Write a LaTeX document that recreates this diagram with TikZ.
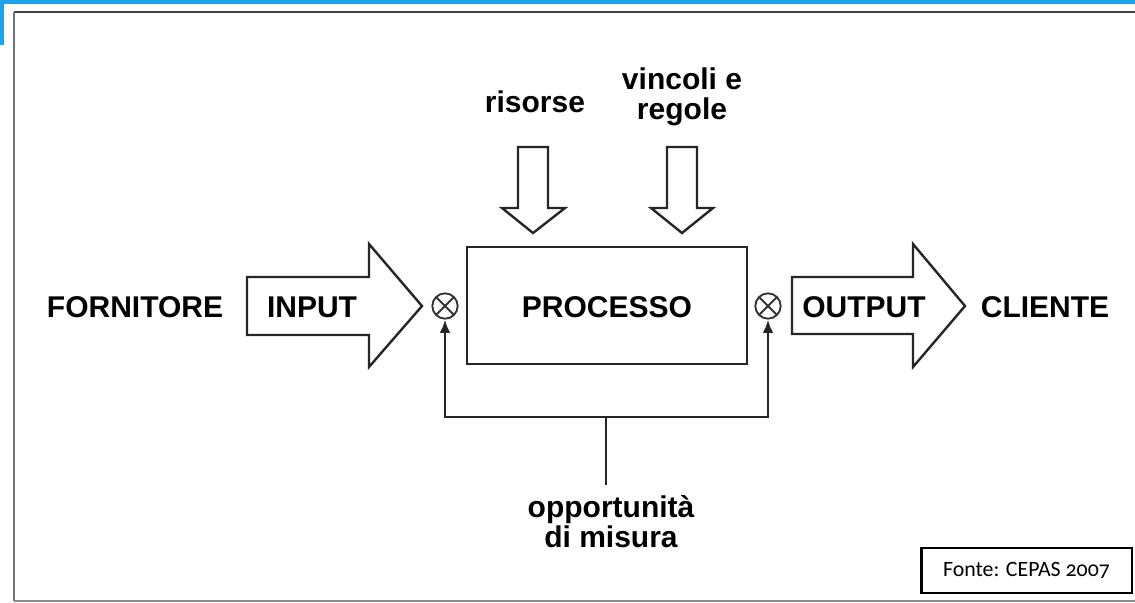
\documentclass[tikz,border=0pt]{standalone}
\usepackage{fontspec}
\setmainfont{Liberation Sans}
\newfontfamily\notefont[Numbers=OldStyle]{Carlito}
\usetikzlibrary{arrows.meta}
\definecolor{bandblue}{RGB}{30,162,232}

\begin{document}
\begin{tikzpicture}[x=0.75pt, y=-0.75pt,
    lbl/.style={font=\fontsize{22.5}{22.5}\selectfont\bfseries, align=center, inner sep=0pt},
    caplbl/.style={lbl, anchor=base},
    blk/.style={draw=black!85, line width=1.8pt, fill=white},
    mpoint/.style={circle, draw=black!80, line width=1.4pt, minimum size=19pt, inner sep=0pt,
        path picture={\draw[line width=1.4pt]
            (path picture bounding box.north west) -- (path picture bounding box.south east)
            (path picture bounding box.north east) -- (path picture bounding box.south west);}},
    link/.style={draw=black!85, line width=1.8pt}]
    \useasboundingbox (0,0) rectangle (1135,603);

    % Blue page corner and frame
    \fill[bandblue] (0,0) rectangle (1135,4);
    \fill[bandblue] (0,0) rectangle (4,45);
    \draw[black!75, line width=2.2pt] (14,12) -- (1135,12);
    \draw[black!55, line width=2.2pt] (14,12) -- (14,601);
    \draw[black!45, line width=1.5pt] (14,601) -- (1135,601);

    % Supplier and customer
    \node[caplbl] (forn) at (135,317) {FORNITORE};
    \node[caplbl] (cli) at (1045,317) {CLIENTE};

    % Input and output block arrows
    \draw[blk] (247,277) -- (369,277) -- (369,244) -- (422,306) -- (369,367) -- (369,335) -- (247,335) -- cycle;
    \node[caplbl] (in) at (312,317) {INPUT};
    \draw[blk] (792,277) -- (913,277) -- (913,244) -- (965,306) -- (913,367) -- (913,334) -- (792,334) -- cycle;
    \node[caplbl] (out) at (864,317) {OUTPUT};

    % Process box
    \node[blk, minimum width=210pt, minimum height=87.75pt] (proc) at (607,305.5) {};
    \node[caplbl] (proclbl) at (proc.center |- in.base) {PROCESSO};

    % Resources and constraints
    \node[lbl] (ris) at (535,102) {risorse};
    \node[lbl] (vinc) at (682,97) {vincoli e\\regole};
    \draw[blk] (518,147) -- (548,147) -- (548,208) -- (565,208) -- (533,233) -- (502,208) -- (518,208) -- cycle;
    \draw[blk] (667,147) -- (697,147) -- (697,208) -- (713,208) -- (682,233) -- (651,208) -- (667,208) -- cycle;

    % Measurement points
    \node[mpoint] (mL) at (445,306) {};
    \node[mpoint] (mR) at (768,306) {};

    % Feedback lines
    \coordinate (fb) at (606,417);
    \coordinate (stem) at (606,485);
    \draw[link, {Latex[length=10pt,width=8pt]}-{Latex[length=10pt,width=8pt]}]
        (mL.south) -- (mL.south |- fb) -- (mR.south |- fb) -- (mR.south);
    \draw[link] (fb) -- (stem);
    \node[lbl] (mis) at (611,522) {opportunità\\di misura};

    % Source note
    \node[draw, line width=2pt, minimum width=158pt, minimum height=33.75pt,
        font=\notefont\fontsize{16.4}{18}\selectfont] (fonte) at (1026.5,570.5) {Fonte: CEPAS 2007};
\end{tikzpicture}
\end{document}
